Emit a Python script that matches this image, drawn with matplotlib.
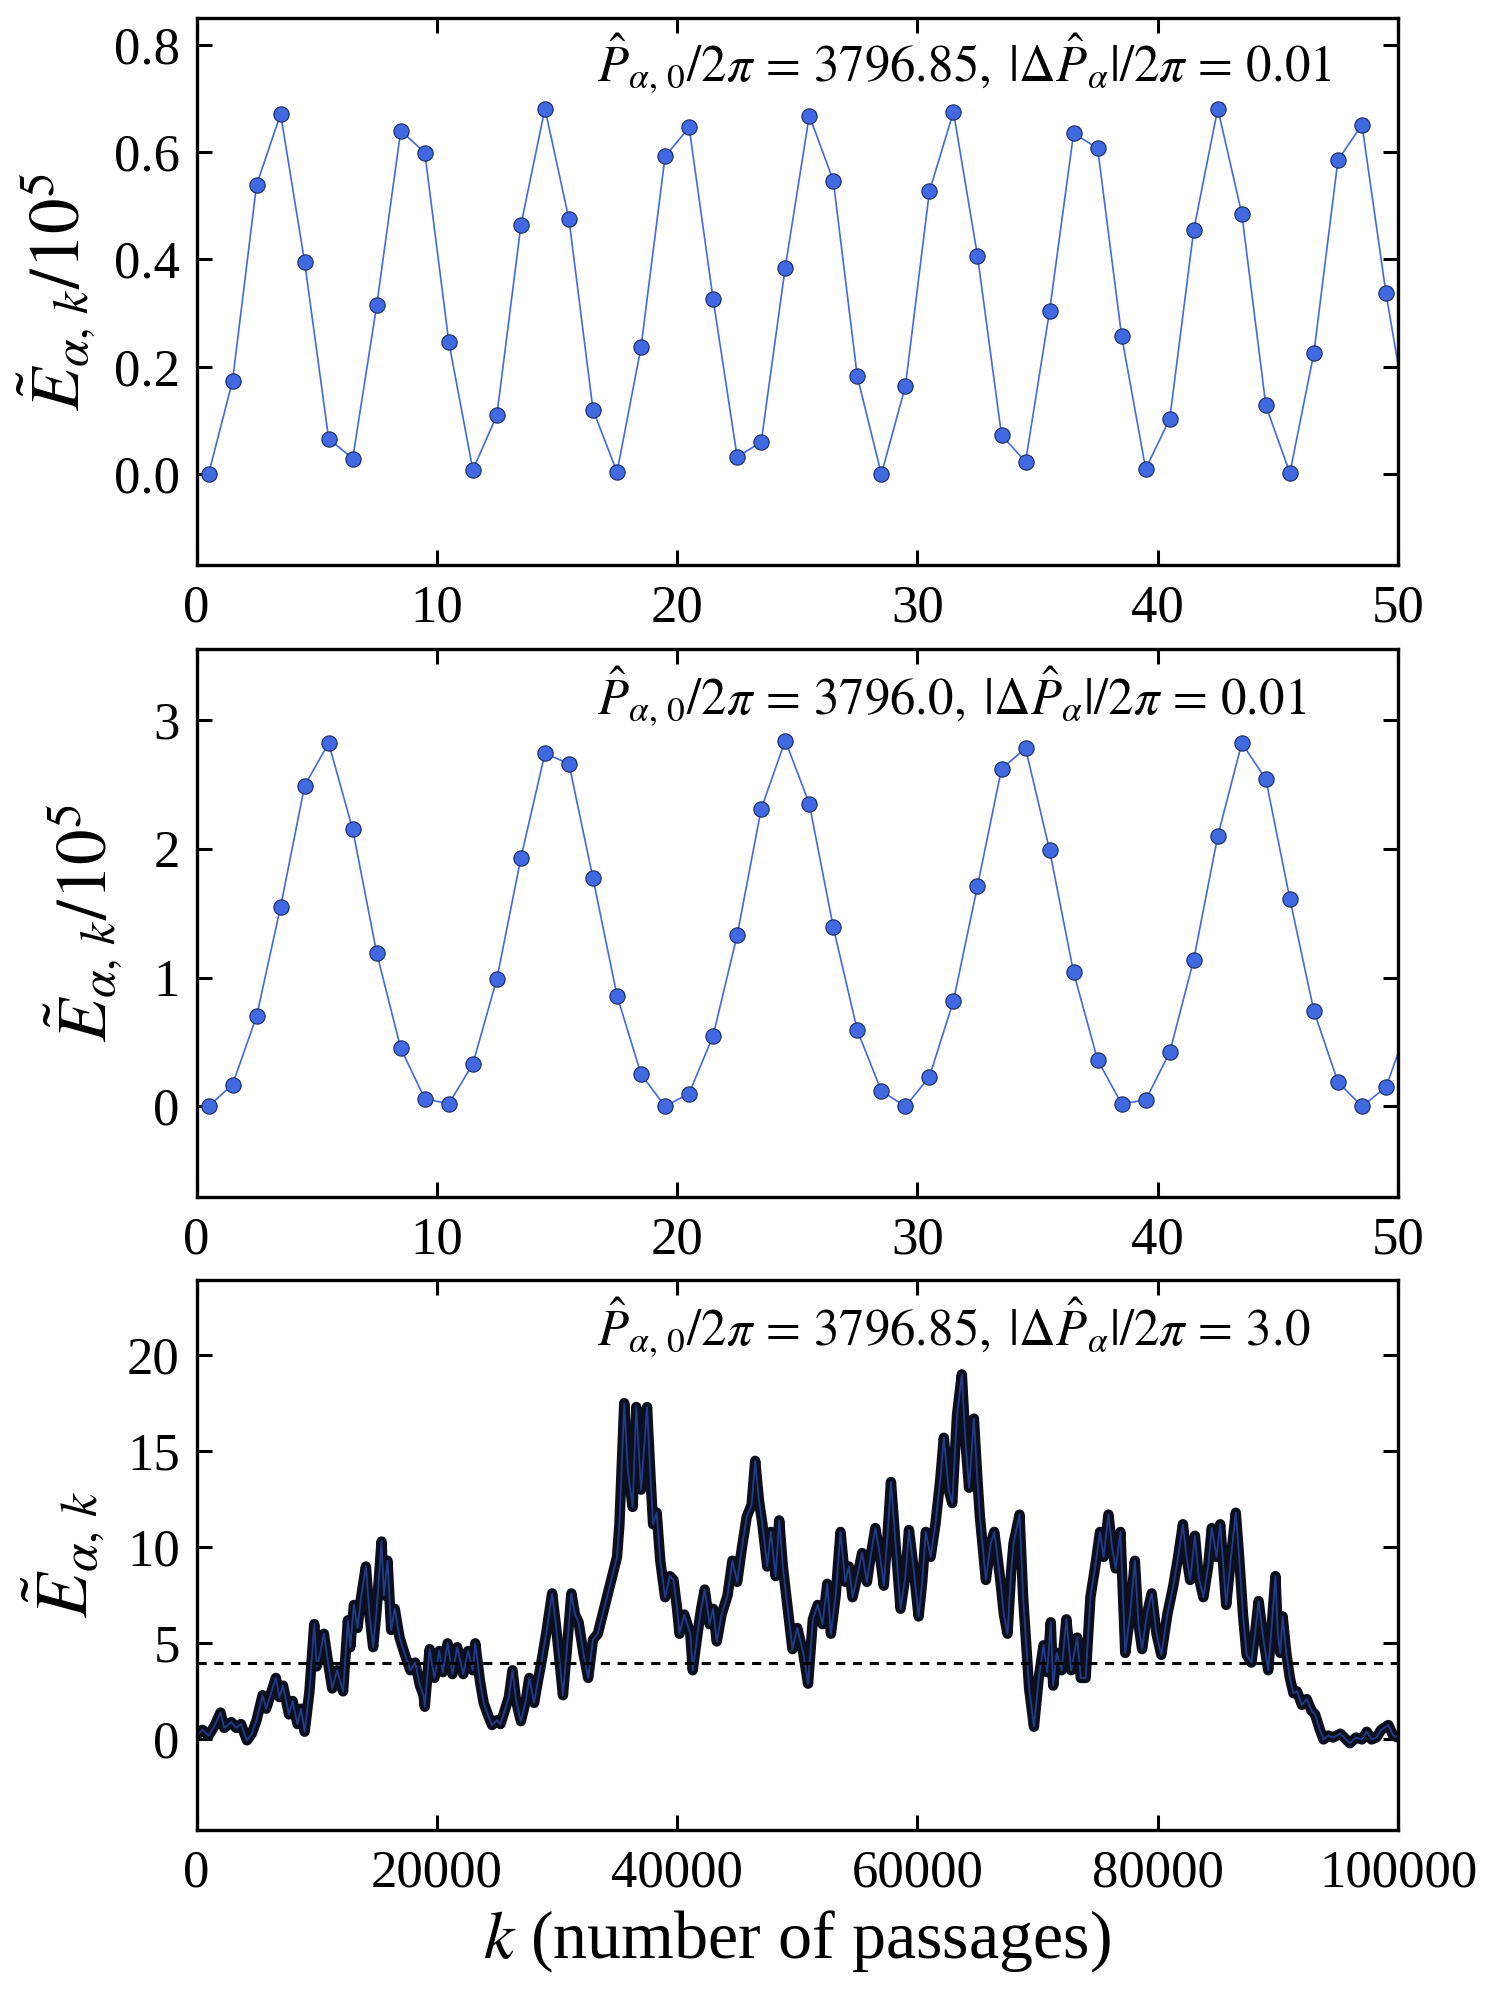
import numpy as np
import matplotlib
matplotlib.use('Agg')
from matplotlib import pyplot as plt

plt.rcParams['font.family'] = ['Liberation Serif', 'DejaVu Serif']
plt.rcParams['mathtext.fontset'] = 'stix'

# top panel: P0/2pi = 3796.85, dP/2pi = 0.01  (values / 1e5)
top_vals = [0.000, 0.174, 0.539, 0.671, 0.395, 0.066, 0.029, 0.315, 0.640, 0.599,
            0.246, 0.008, 0.110, 0.464, 0.681, 0.475, 0.120, 0.004, 0.237, 0.592,
            0.646, 0.326, 0.032, 0.060, 0.385, 0.668, 0.547, 0.182, 0.000, 0.164,
            0.527, 0.675, 0.407, 0.073, 0.023, 0.304, 0.635, 0.607, 0.257, 0.010,
            0.103, 0.455, 0.681, 0.485, 0.128, 0.002, 0.226, 0.585, 0.651, 0.337,
            0.073]

# middle panel: P0/2pi = 3796.0, dP/2pi = 0.01  (values / 1e5)
mid_vals = [0.00, 0.17, 0.70, 1.55, 2.49, 2.82, 2.15, 1.19, 0.45, 0.06,
            0.02, 0.33, 0.99, 1.93, 2.74, 2.66, 1.77, 0.86, 0.25, 0.00,
            0.10, 0.55, 1.33, 2.31, 2.84, 2.35, 1.39, 0.59, 0.12, 0.00,
            0.23, 0.82, 1.71, 2.62, 2.78, 1.99, 1.04, 0.36, 0.02, 0.05,
            0.42, 1.14, 2.10, 2.82, 2.54, 1.61, 0.74, 0.19, 0.00, 0.15,
            0.67]

k_half = np.arange(len(top_vals)) + 0.5

# bottom panel: long run, k in thousands
walk_k = [0.0, 0.5, 1.0, 1.5, 2.0, 2.3, 2.9, 3.3, 3.7, 4.2, 4.6, 5.0, 5.5, 5.8, 6.3,
          6.6, 6.9, 7.2, 7.7, 8.0, 8.4, 8.7, 9.0, 9.4, 9.8, 10.0, 10.2, 10.6, 11.0,
          11.3, 11.7, 12.2, 12.6, 12.8, 13.1, 13.4, 13.7, 14.1, 14.4, 14.7, 15.0,
          15.4, 15.6, 15.9, 16.2, 16.5, 16.9, 17.3, 17.8, 18.2, 18.6, 18.9, 19.0,
          19.4, 19.8, 20.2, 20.5, 20.9, 21.3, 21.7, 22.2, 22.6, 23.0, 23.2, 23.6,
          23.9, 24.3, 24.6, 25.0, 25.3, 25.6, 26.0, 26.3, 26.6, 27.0, 27.4, 27.7,
          28.1, 28.4, 28.7, 29.1, 29.6, 29.9, 30.2, 30.5, 30.8, 31.2, 31.5, 31.8,
          32.2, 32.6, 33.0, 33.4, 33.8, 34.4, 35.0, 35.2, 35.6, 35.9, 36.3, 36.6,
          37.0, 37.5, 37.8, 38.0, 38.3, 38.6, 39.0, 39.4, 39.7, 40.0, 40.2, 40.6,
          41.1, 41.3, 41.7, 42.0, 42.3, 42.7, 43.0, 43.3, 43.7, 44.2, 44.6, 45.0,
          45.4, 45.8, 46.2, 46.5, 46.8, 47.1, 47.5, 47.8, 48.2, 48.5, 48.8, 49.1,
          49.6, 50.0, 50.5, 50.9, 51.3, 51.7, 52.1, 52.5, 52.8, 53.2, 53.6, 54.0,
          54.3, 54.6, 55.0, 55.4, 55.8, 56.1, 56.5, 56.9, 57.2, 57.5, 57.8, 58.2,
          58.6, 59.0, 59.3, 59.7, 60.1, 60.4, 60.7, 61.1, 61.5, 61.9, 62.2, 62.6,
          62.9, 63.3, 63.7, 64.0, 64.3, 64.7, 65.0, 65.2, 65.7, 66.1, 66.4, 66.9,
          67.2, 67.5, 67.8, 68.0, 68.5, 68.8, 69.3, 69.7, 70.1, 70.5, 70.8, 71.1,
          71.3, 71.6, 72.0, 72.4, 72.8, 73.3, 73.6, 74.0, 74.4, 74.8, 75.2, 75.5,
          75.9, 76.2, 76.5, 76.9, 77.3, 77.7, 78.1, 78.4, 78.7, 79.1, 79.5, 79.9,
          80.3, 80.8, 81.3, 81.7, 82.1, 82.4, 82.7, 83.1, 83.4, 83.8, 84.2, 84.5,
          84.9, 85.2, 85.7, 86.1, 86.5, 86.8, 87.1, 87.4, 87.8, 88.1, 88.4, 88.8,
          89.2, 89.5, 89.8, 90.0, 90.2, 90.4, 90.7, 91.0, 91.3, 91.6, 92.0, 92.4,
          92.8, 93.1, 93.5, 93.8, 94.2, 94.6, 95.2, 95.6, 96.0, 96.5, 97.0, 97.4,
          97.8, 98.2, 98.6, 99.2, 99.6, 100.0]
walk_e = [0.2, 0.5, 0.2, 0.7, 1.4, 0.6, 0.9, 0.6, 0.8, -0.05, 0.3, 1.0, 2.3, 1.6, 2.6,
          3.2, 2.2, 2.8, 1.3, 2.0, 0.8, 1.6, 0.4, 2.5, 6.0, 3.8, 4.2, 5.5, 3.8,
          2.65, 3.6, 2.5, 6.2, 4.8, 7.0, 5.8, 7.4, 9.0, 6.5, 4.8, 6.8,
          10.3, 7.5, 9.3, 5.7, 6.8, 5.3, 4.5, 3.6, 4.0, 2.8, 2.3, 1.7,
          4.7, 3.2, 4.6, 3.5, 5.0, 3.4, 4.8, 3.4, 4.6, 3.6, 5.0, 3.0,
          1.9, 1.2, 0.75, 1.0, 0.8, 1.4, 2.2, 3.6, 2.0, 0.95, 2.0, 3.2,
          1.9, 3.0, 4.0, 5.5, 7.6, 6.0, 4.2, 2.3, 4.5, 7.6, 6.5, 6.1,
          4.5, 3.2, 5.2, 5.5, 6.5, 8.0, 9.5, 11.2, 17.5, 14.0, 12.1, 17.3,
          13.0, 17.3, 13.5, 11.2, 11.8, 9.3, 7.4, 8.5, 8.3, 6.8, 5.5, 6.5,
          5.5, 3.6, 5.5, 6.8, 7.8, 6.0, 6.8, 5.1, 6.5, 7.5, 9.3, 8.2,
          10.0, 11.6, 12.2, 14.5, 12.5, 11.2, 9.0, 10.8, 8.5, 11.4, 9.0, 7.4,
          4.7, 5.8, 4.5, 2.9, 6.25, 7.0, 6.0, 8.1, 5.5, 7.5, 10.8, 8.2,
          9.0, 7.4, 8.5, 9.7, 8.2, 9.5, 11.0, 9.5, 8.0, 10.5, 13.4, 10.0,
          6.8, 8.5, 10.9, 8.8, 6.4, 8.2, 10.8, 9.5, 11.2, 13.5, 15.7, 13.0,
          12.3, 16.9, 19.0, 15.5, 13.1, 16.7, 13.5, 11.6, 8.3, 10.2, 10.8, 8.3,
          6.5, 5.5, 8.7, 10.2, 11.7, 7.4, 2.65, 0.66, 3.2, 4.9, 3.5, 6.1,
          2.8, 4.5, 3.6, 6.25, 3.6, 5.3, 3.2, 3.2, 7.4, 9.0, 10.8, 9.5,
          11.7, 10.0, 8.9, 10.8, 4.5, 6.5, 9.3, 6.0, 4.7, 6.5, 7.6, 5.5,
          4.4, 6.5, 8.0, 9.5, 11.2, 9.5, 8.3, 10.6, 8.5, 7.4, 9.0, 11.0,
          9.5, 11.2, 7.0, 9.5, 11.8, 9.3, 6.5, 4.4, 4.0, 5.5, 7.2, 5.2,
          3.6, 6.0, 8.5, 5.5, 4.5, 6.4, 4.5, 3.2, 2.4, 2.5, 1.8, 2.1,
          1.5, 1.3, 0.5, 0.0, 0.2, 0.1, 0.3, 0.05, -0.2, 0.1, 0.0, 0.4,
          0.0, 0.1, 0.5, 0.75, 0.2, 0.1]
threshold = 4.0

labels_top = r'$\hat{P}_{\alpha,\,0}/2\pi\,=\,3796.85,\;|\Delta\hat{P}_{\alpha}|/2\pi\,=\,0.01$'
labels_mid = r'$\hat{P}_{\alpha,\,0}/2\pi\,=\,3796.0,\;|\Delta\hat{P}_{\alpha}|/2\pi\,=\,0.01$'
labels_bot = r'$\hat{P}_{\alpha,\,0}/2\pi\,=\,3796.85,\;|\Delta\hat{P}_{\alpha}|/2\pi\,=\,3.0$'

fig = plt.figure(figsize=(15, 19.91), dpi=100)
ax1 = fig.add_axes([0.131, 0.716, 0.801, 0.275])
ax2 = fig.add_axes([0.131, 0.399, 0.801, 0.275])
ax3 = fig.add_axes([0.131, 0.081, 0.801, 0.276])


def style(ax):
    for s in ax.spines.values():
        s.set_linewidth(2.4)
    ax.tick_params(direction='in', which='both', top=True, right=True,
                   length=11, width=2.2, labelsize=38)
    ax.tick_params(axis='y', pad=12)
    ax.tick_params(axis='x', pad=14)


ax1.plot(k_half, top_vals, '-o', color='#4169e1', lw=1.2, ms=11,
         mec='#1a2a5a', mew=0.8)
ax1.set_xlim(0, 50)
ax1.set_ylim(-0.17, 0.85)
ax1.set_xticks([0, 10, 20, 30, 40, 50])
ax1.set_yticks([0.0, 0.2, 0.4, 0.6, 0.8])
ax1.set_yticklabels(['0.0', '0.2', '0.4', '0.6', '0.8'])
ax1.set_ylabel(r'$\tilde{E}_{\alpha,\,k}/10^5$', fontsize=51)
ax1.yaxis.set_label_coords(-0.083, 0.5)
ax1.text(0.333, 0.918, labels_top, transform=ax1.transAxes, fontsize=36.5,
         ha='left', va='center')
style(ax1)

ax2.plot(k_half, mid_vals, '-o', color='#4169e1', lw=1.2, ms=11,
         mec='#1a2a5a', mew=0.8)
ax2.set_xlim(0, 50)
ax2.set_ylim(-0.7, 3.55)
ax2.set_xticks([0, 10, 20, 30, 40, 50])
ax2.set_yticks([0, 1, 2, 3])
ax2.set_ylabel(r'$\tilde{E}_{\alpha,\,k}/10^5$', fontsize=51)
ax2.yaxis.set_label_coords(-0.06, 0.5)
ax2.text(0.333, 0.914, labels_mid, transform=ax2.transAxes, fontsize=36.5,
         ha='left', va='center')
style(ax2)

kk = np.array(walk_k) * 1000
ax3.plot(kk, walk_e, '-', color='#0b0f1e', lw=7.5, solid_joinstyle='round')
ax3.plot(kk, walk_e, '-', color='#2d4fb8', lw=1.3, alpha=0.7)
ax3.plot([0, 100000], [threshold, threshold], '--', color='black', lw=2.2,
         dashes=(3, 2.5))
ax3.set_xlim(0, 100000)
ax3.set_ylim(-4.7, 23.9)
ax3.set_xticks([0, 20000, 40000, 60000, 80000, 100000])
ax3.set_yticks([0, 5, 10, 15, 20])
ax3.set_ylabel(r'$\tilde{E}_{\alpha,\,k}$', fontsize=53)
ax3.yaxis.set_label_coords(-0.075, 0.5)
ax3.set_xlabel(r'$k$ (number of passages)', fontsize=49, labelpad=8)
ax3.text(0.333, 0.914, labels_bot, transform=ax3.transAxes, fontsize=36.5,
         ha='left', va='center')
style(ax3)

plt.savefig('out.png', dpi=100)
